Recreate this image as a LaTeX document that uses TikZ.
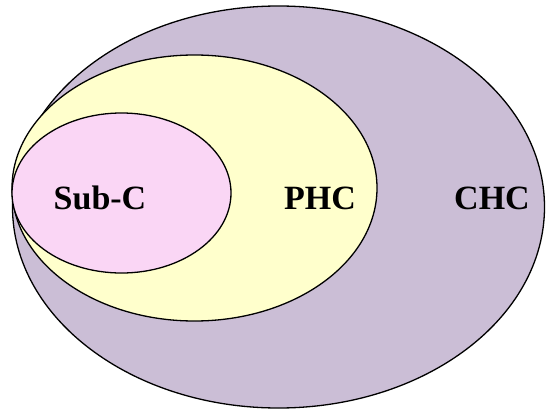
\documentclass[tikz,border=0pt]{standalone}
\usepackage{fontspec}
\setmainfont{Liberation Serif}
\definecolor{chcfill}{RGB}{203,190,214}
\definecolor{phcfill}{RGB}{255,255,204}
\definecolor{subfill}{RGB}{250,214,245}
\tikzset{
    set/.style={draw=black, line width=1.3pt},
    setlabel/.style={font=\fontsize{34}{40}\selectfont\bfseries, inner sep=0pt}
}
\begin{document}
    \begin{tikzpicture}[x=1pt, y=-1pt]
        \useasboundingbox (0, 0) rectangle (546, 412);

        \draw[set, fill=chcfill] (278.5, 207) ellipse [x radius=266, y radius=201];
        \draw[set, fill=phcfill] (194.5, 188) ellipse [x radius=182.5, y radius=133];
        \draw[set, fill=subfill] (121.5, 193) ellipse [x radius=109.5, y radius=80];

        \node (subc) at (100, 198) [setlabel] {Sub-C};
        \node (phc) at (320, 198) [setlabel] {PHC};
        \node (chc) at (492, 198) [setlabel] {CHC};
    \end{tikzpicture}
\end{document}
